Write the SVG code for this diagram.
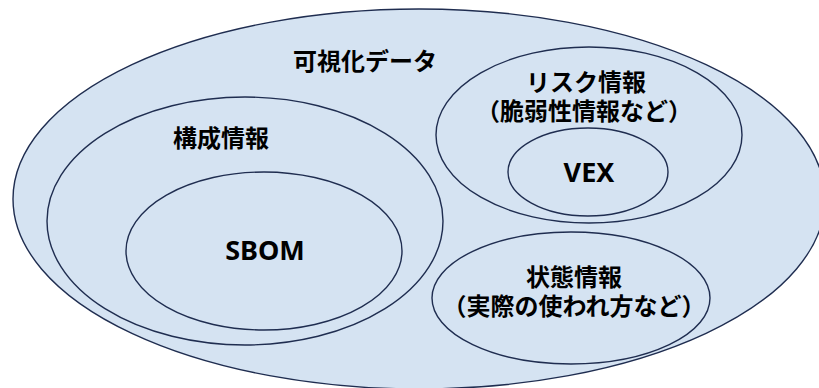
<svg xmlns="http://www.w3.org/2000/svg" width="819" height="388" viewBox="0 0 819 388">
<style>
.e{fill:#D5E3F2;stroke:#1F2D50;stroke-width:1.4}
.t{font-family:"Liberation Sans","Noto Sans CJK JP",sans-serif;font-size:24px;font-weight:700;fill:#000;text-anchor:middle}
.b{font-family:"Noto Sans","Noto Sans CJK JP",sans-serif;font-size:27px;font-weight:700;fill:#000;text-anchor:middle}
</style>
<rect width="819" height="388" fill="#fff"/>
<g id="visualization-data">
<ellipse class="e" cx="419" cy="199" rx="406" ry="190"/>
<text class="t" x="365" y="70">可視化データ</text>
</g>
<g id="composition-info">
<ellipse class="e" cx="245" cy="221" rx="198" ry="124"/>
<text class="t" x="221" y="147">構成情報</text>
</g>
<g id="sbom">
<ellipse class="e" cx="264" cy="251" rx="138" ry="79"/>
<text class="b" x="265" y="260">SBOM</text>
</g>
<g id="risk-info">
<ellipse class="e" cx="589" cy="135" rx="153" ry="88"/>
<text class="t" x="586" y="91">リスク情報</text>
<text class="t" x="584" y="120">（脆弱性情報など）</text>
</g>
<g id="vex">
<ellipse class="e" cx="588" cy="172" rx="80" ry="44"/>
<text class="b" x="589" y="182">VEX</text>
</g>
<g id="state-info">
<ellipse class="e" cx="571" cy="298" rx="139" ry="66"/>
<text class="t" x="574" y="286">状態情報</text>
<text class="t" x="574" y="315">（実際の使われ方など）</text>
</g>
<g id="connectors"></g>
</svg>
